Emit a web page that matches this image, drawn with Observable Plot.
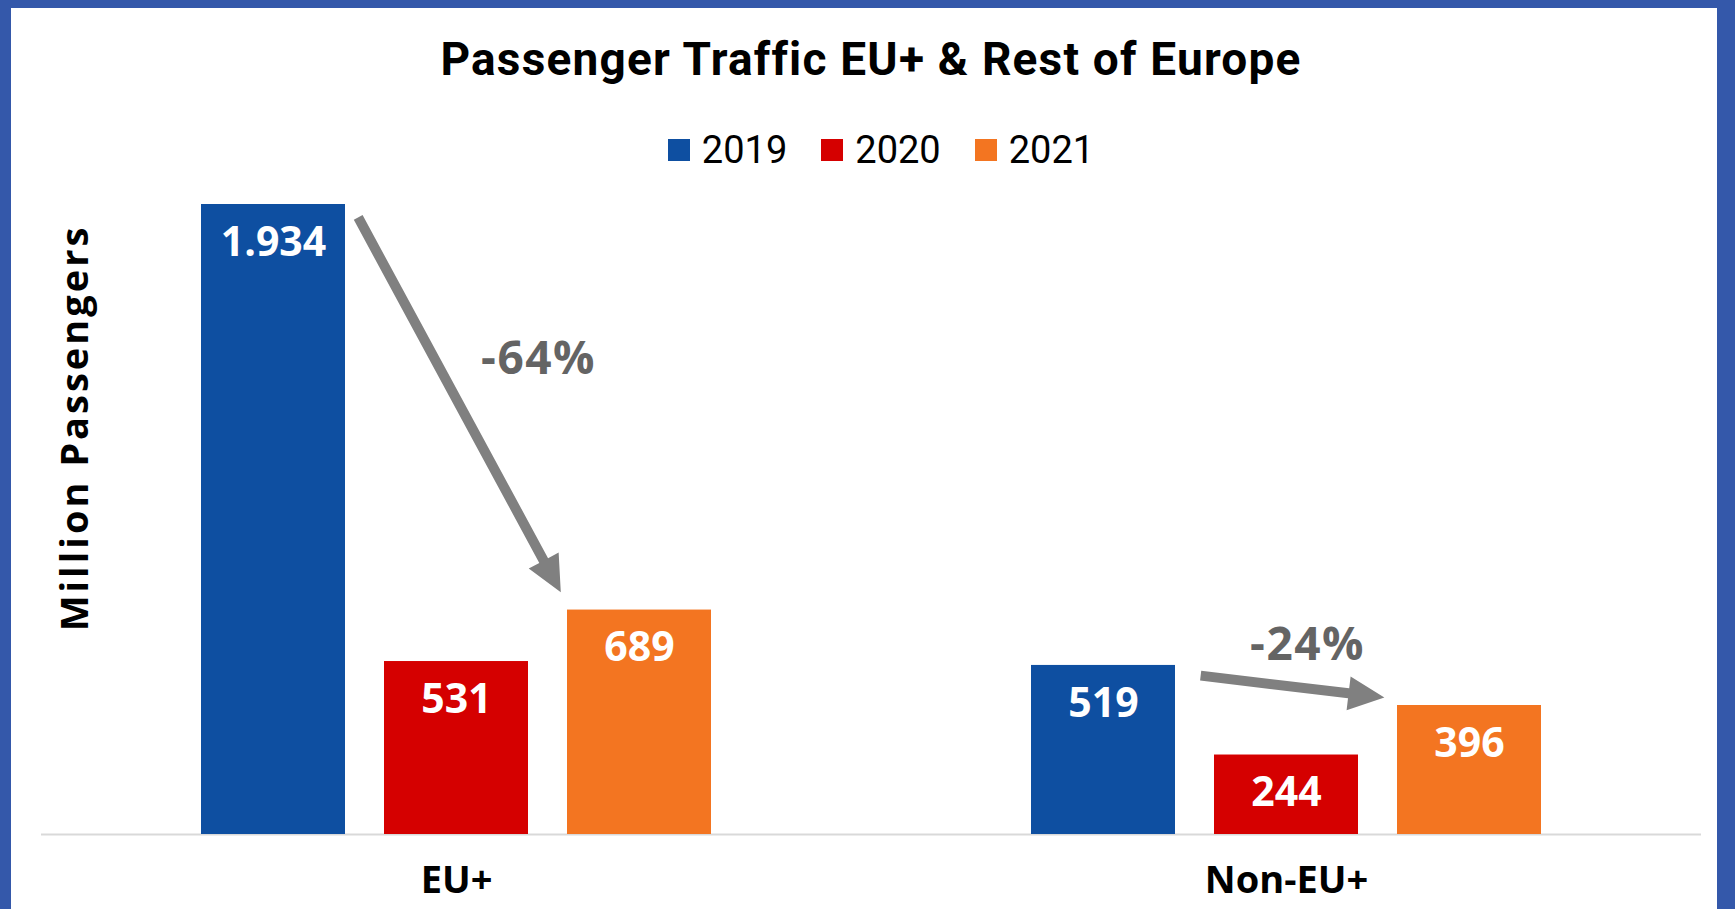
<!DOCTYPE html>
<html><head><meta charset="utf-8">
<script src="https://cdn.jsdelivr.net/npm/d3@7"></script>
<script src="https://cdn.jsdelivr.net/npm/@observablehq/plot@0.6"></script>
<style>
html,body{margin:0;padding:0;width:1735px;height:909px;overflow:hidden;}
body{background:#3458aa;font-family:"Open Sans",sans-serif;position:relative;}
#panel{position:absolute;left:11px;top:8px;width:1706px;height:901px;background:#fff;}
#title{position:absolute;left:0;top:36px;width:1742px;text-align:center;font:700 46px Roboto;letter-spacing:1.2px;color:#000;line-height:46px;}
#legend{position:absolute;left:0;top:128px;width:1762px;display:flex;justify-content:center;}
#legend div, #legend span{font:400 38px Roboto !important;color:#000 !important;margin:0;}
#legend span{margin-right:34px !important;display:inline-flex;align-items:center;}
#legend span:last-child{margin-right:0 !important;}
#legend span > svg{margin-right:12px !important;}
#ylabel{position:absolute;left:73px;top:428px;transform:translate(-50%,-50%) rotate(-90deg);font:700 38px "Open Sans";letter-spacing:3px;white-space:nowrap;color:#000;}
#chart{position:absolute;left:0;top:180px;}
.pct text{letter-spacing:1.5px;}
</style></head><body>
<div id="panel"></div>
<div id="title">Passenger Traffic EU+ &amp; Rest of Europe</div>
<div id="legend"></div>
<div id="ylabel">Million Passengers</div>
<div id="chart"></div>
<script>
// ---- data ----
const groups = ["EU+", "Non-EU+"];
const years = ["2019", "2020", "2021"];
const values2019 = [1934, 519];
const values2020 = [531, 244];
const values2021 = [689, 396];
const yearColors = ["#0e4fa1", "#d50000", "#f37521"];
const changeLabels = ["-64%", "-24%"];

const seriesByYear = [values2019, values2020, values2021];
const table = groups.flatMap((g, i) => years.map((y, j) => ({group: g, year: y, value: seriesByYear[j][i]})));

// annotation layout (arrow anchored at the 2020 band, value-axis units)
const annotations = [
  {group: "EU+", label: changeLabels[0], arrowY: 1319, length: 426, rotate: 151.6, arrowDx: 3, labelY: 1458, labelDx: 81},
  {group: "Non-EU+", label: changeLabels[1], arrowY: 454, length: 185, rotate: 96.8, arrowDx: 6, labelY: 580, labelDx: 20}
];

const fmt = d3.formatLocale({decimal: ",", thousands: ".", grouping: [3], currency: ["", "€"]}).format(",d");

const arrowShape = {
  draw(ctx, l) {
    const hl = 36, hw = 17, sw = 5, b = -(l - hl);
    ctx.moveTo(-sw, 0); ctx.lineTo(-sw, b); ctx.lineTo(-hw, b); ctx.lineTo(0, -l);
    ctx.lineTo(hw, b); ctx.lineTo(sw, b); ctx.lineTo(sw, 0); ctx.closePath();
  }
};

const chart = Plot.plot({
  width: 1735, height: 729,
  marginTop: 24, marginBottom: 75, marginLeft: 40, marginRight: 34,
  style: {fontFamily: "Open Sans", background: "transparent", overflow: "visible"},
  fx: {domain: groups, padding: 0, label: null},
  x: {domain: years, paddingInner: 0.212, paddingOuter: 0.863, axis: null},
  y: {domain: [0, 1934], axis: null},
  color: {domain: years, range: yearColors},
  marks: [
    Plot.ruleY([0], {stroke: "#d9d9d9", strokeWidth: 2}),
    Plot.barY(table, {fx: "group", x: "year", y: "value", fill: "year"}),
    Plot.text(table, {fx: "group", x: "year", y: "value", text: d => fmt(d.value), fill: "white", fontSize: 41, fontWeight: 700, dy: 38}),
    ...annotations.map(a => Plot.vector([a], {fx: "group", x: () => "2020", y: "arrowY", length: a.length, rotate: a.rotate, anchor: "middle", shape: arrowShape, fill: "#808080", stroke: "none", dx: a.arrowDx})),
    ...annotations.map(a => Plot.text([a], {fx: "group", x: () => "2020", y: "labelY", text: "label", fill: "#646464", fontSize: 46, fontWeight: 700, dx: a.labelDx + 1, className: "pct"})),
    Plot.axisFx({anchor: "bottom", tickSize: 0, tickPadding: 32, fontSize: 38, fontWeight: 700, fill: "#000", label: null})
  ]
});
document.getElementById("chart").appendChild(chart);
document.getElementById("legend").appendChild(chart.legend("color", {swatchSize: 22, className: "lg"}));
</script></body></html>
